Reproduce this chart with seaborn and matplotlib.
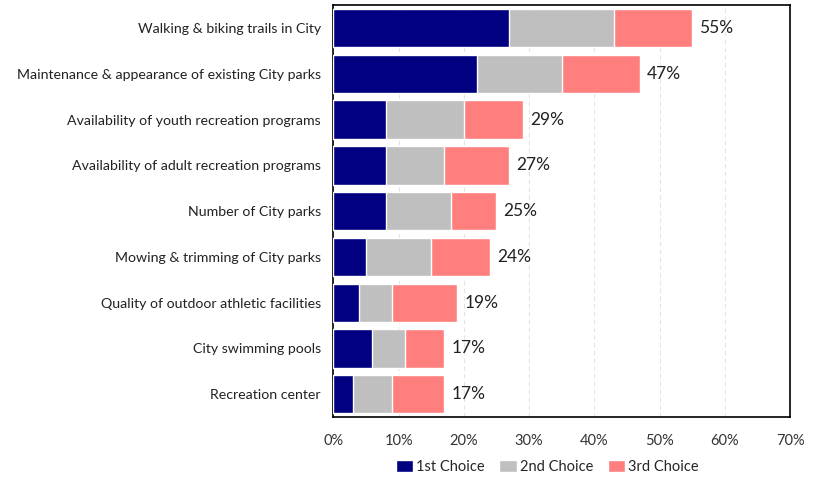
import pandas as pd
import matplotlib.pyplot as plt
import seaborn as sns
from matplotlib.patches import Patch
from matplotlib.ticker import PercentFormatter

# Datos (porcentaje por elección)
categories = [
    "Walking & biking trails in City",
    "Maintenance & appearance of existing City parks",
    "Availability of youth recreation programs",
    "Availability of adult recreation programs",
    "Number of City parks",
    "Mowing & trimming of City parks",
    "Quality of outdoor athletic facilities",
    "City swimming pools",
    "Recreation center",
]
first_choice = [27, 22, 8, 8, 8, 5, 4, 6, 3]
second_choice = [16, 13, 12, 9, 10, 10, 5, 5, 6]
third_choice = [12, 12, 9, 10, 7, 9, 10, 6, 8]
totals = [55, 47, 29, 27, 25, 24, 19, 17, 17]

df = pd.DataFrame({
    "category": categories,
    "first": first_choice,
    "second": second_choice,
    "third": third_choice,
})
df["first_second"] = df["first"] + df["second"]
df["all"] = df["first_second"] + df["third"]

colors = {"1st Choice": "#000080", "2nd Choice": "#BFBFBF", "3rd Choice": "#FF7F7F"}

sns.set_style("white")
plt.rcParams["font.family"] = ["Lato", "DejaVu Sans"]

fig = plt.figure(figsize=(8.23, 4.80), dpi=100)
ax = fig.add_axes([0.405, 0.131, 0.555, 0.858])

# Barras apiladas: se dibuja el acumulado de mayor a menor
sns.barplot(data=df, y="category", x="all", color=colors["3rd Choice"],
            orient="h", width=0.84, ax=ax, saturation=1, zorder=2)
sns.barplot(data=df, y="category", x="first_second", color=colors["2nd Choice"],
            orient="h", width=0.84, ax=ax, saturation=1, zorder=3)
sns.barplot(data=df, y="category", x="first", color=colors["1st Choice"],
            orient="h", width=0.84, ax=ax, saturation=1, zorder=4)

# Etiquetas de total
for i, t in enumerate(totals):
    ax.text(df["all"][i] + 1.1, i, f"{t}%", va="center", ha="left",
            fontsize=12.5, color="#222222", zorder=5)

ax.set_xlim(0, 70)
ax.set_xticks(range(0, 71, 10))
ax.xaxis.set_major_formatter(PercentFormatter(decimals=0))
ax.xaxis.grid(True, linestyle=(0, (4, 3)), color="#E3E3E3", linewidth=0.8)
ax.set_axisbelow(True)
ax.set_xlabel("")
ax.set_ylabel("")
ax.tick_params(axis="x", labelsize=10.5, colors="#333333", pad=9)
ax.tick_params(axis="y", labelsize=10.2, colors="#222222", pad=9, length=0)

for spine in ax.spines.values():
    spine.set_visible(True)
    spine.set_color("black")
    spine.set_linewidth(1.2)

handles = [Patch(facecolor=c, label=l) for l, c in colors.items()]
fig.legend(handles=handles, loc="lower center", bbox_to_anchor=(0.665, -0.015),
           ncol=3, frameon=False, fontsize=10.5, handlelength=1.2,
           handleheight=0.9, handletextpad=0.2, columnspacing=1.0)

fig.savefig("out.png", dpi=100)
